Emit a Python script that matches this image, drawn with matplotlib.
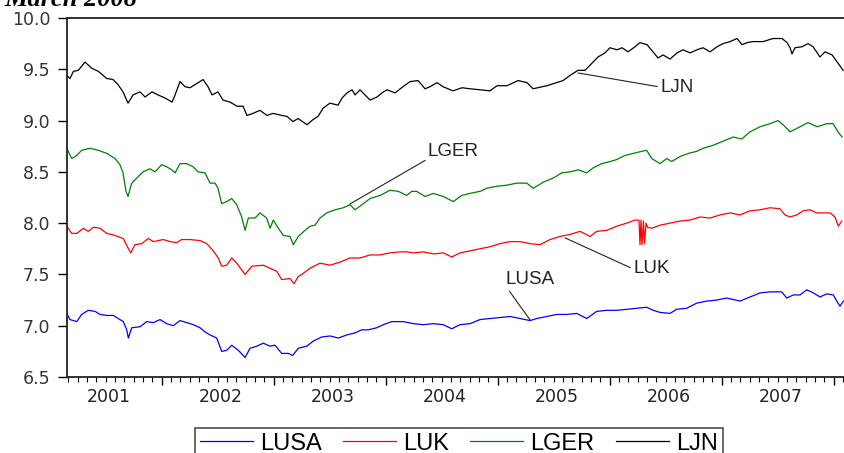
import matplotlib.pyplot as plt
from matplotlib.ticker import MultipleLocator, NullFormatter
from matplotlib.transforms import blended_transform_factory

usa_t = [2001.154, 2001.183, 2001.243, 2001.287, 2001.346, 2001.406, 2001.451, 2001.511, 2001.570, 2001.614,
         2001.659, 2001.689, 2001.704, 2001.734, 2001.808, 2001.868, 2001.927, 2001.987, 2002.046, 2002.105,
         2002.165, 2002.225, 2002.284, 2002.344, 2002.388, 2002.433, 2002.493, 2002.537, 2002.582, 2002.627,
         2002.686, 2002.746, 2002.790, 2002.850, 2002.909, 2002.969, 2003.013, 2003.073, 2003.132, 2003.171,
         2003.221, 2003.296, 2003.355, 2003.430, 2003.504, 2003.579, 2003.654, 2003.728, 2003.787, 2003.846,
         2003.921, 2003.980, 2004.055, 2004.159, 2004.248, 2004.337, 2004.427, 2004.516, 2004.591, 2004.665,
         2004.754, 2004.844, 2004.933, 2005.022, 2005.112, 2005.201, 2005.290, 2005.350, 2005.439, 2005.529,
         2005.618, 2005.707, 2005.796, 2005.886, 2005.975, 2006.064, 2006.154, 2006.243, 2006.332, 2006.391,
         2006.451, 2006.540, 2006.600, 2006.689, 2006.778, 2006.868, 2006.957, 2007.046, 2007.165, 2007.254,
         2007.344, 2007.433, 2007.537, 2007.582, 2007.641, 2007.701, 2007.761, 2007.820, 2007.879, 2007.939,
         2007.998, 2008.029, 2008.058, 2008.087]
usa = [7.12, 7.06, 7.04, 7.11, 7.15, 7.14, 7.11, 7.10, 7.10, 7.07,
       7.04, 6.96, 6.88, 6.98, 6.99, 7.04, 7.03, 7.06, 7.02, 7.00,
       7.05, 7.03, 7.01, 6.98, 6.94, 6.91, 6.88, 6.75, 6.76, 6.81,
       6.76, 6.69, 6.78, 6.80, 6.83, 6.80, 6.81, 6.73, 6.73, 6.71,
       6.78, 6.80, 6.85, 6.89, 6.90, 6.88, 6.91, 6.93, 6.96, 6.96,
       6.98, 7.01, 7.04, 7.04, 7.02, 7.01, 7.02, 7.01, 6.97, 7.01,
       7.02, 7.06, 7.07, 7.08, 7.09, 7.07, 7.05, 7.07, 7.09, 7.11,
       7.11, 7.12, 7.07, 7.14, 7.15, 7.15, 7.16, 7.17, 7.18, 7.15,
       7.13, 7.12, 7.16, 7.17, 7.22, 7.24, 7.25, 7.27, 7.24, 7.28,
       7.32, 7.33, 7.33, 7.27, 7.30, 7.30, 7.35, 7.32, 7.28, 7.31,
       7.30, 7.24, 7.19, 7.24]

uk_t = [2001.154, 2001.198, 2001.243, 2001.302, 2001.346, 2001.391, 2001.451, 2001.511, 2001.585, 2001.659,
        2001.695, 2001.725, 2001.763, 2001.823, 2001.882, 2001.927, 2002.016, 2002.076, 2002.136, 2002.180,
        2002.254, 2002.344, 2002.404, 2002.462, 2002.507, 2002.537, 2002.582, 2002.627, 2002.671, 2002.746,
        2002.805, 2002.909, 2002.969, 2003.029, 2003.073, 2003.147, 2003.183, 2003.221, 2003.252, 2003.326,
        2003.415, 2003.504, 2003.594, 2003.683, 2003.772, 2003.862, 2003.951, 2004.040, 2004.129, 2004.189,
        2004.248, 2004.337, 2004.427, 2004.516, 2004.591, 2004.665, 2004.754, 2004.844, 2004.933, 2005.022,
        2005.112, 2005.201, 2005.290, 2005.379, 2005.469, 2005.558, 2005.647, 2005.737, 2005.826, 2005.886,
        2005.975, 2006.064, 2006.154, 2006.228, 2006.263, 2006.272, 2006.281, 2006.290, 2006.303, 2006.312,
        2006.326, 2006.339, 2006.377, 2006.451, 2006.540, 2006.629, 2006.719, 2006.808, 2006.897, 2006.987,
        2007.076, 2007.165, 2007.254, 2007.344, 2007.433, 2007.522, 2007.567, 2007.612, 2007.671, 2007.730,
        2007.790, 2007.850, 2007.909, 2007.969, 2008.013, 2008.043, 2008.073]
uk = [7.97, 7.90, 7.90, 7.95, 7.92, 7.96, 7.95, 7.90, 7.88, 7.85,
      7.77, 7.71, 7.79, 7.80, 7.85, 7.82, 7.84, 7.82, 7.81, 7.84,
      7.84, 7.83, 7.80, 7.73, 7.66, 7.58, 7.59, 7.66, 7.61, 7.50,
      7.58, 7.59, 7.56, 7.53, 7.45, 7.46, 7.41, 7.48, 7.50, 7.56,
      7.61, 7.59, 7.62, 7.66, 7.66, 7.69, 7.69, 7.71, 7.72, 7.72,
      7.71, 7.72, 7.70, 7.71, 7.67, 7.71, 7.73, 7.75, 7.77, 7.80,
      7.82, 7.82, 7.80, 7.79, 7.84, 7.87, 7.89, 7.92, 7.87, 7.92,
      7.93, 7.97, 8.00, 8.03, 8.03, 7.79, 8.03, 7.79, 8.02, 7.80,
      8.00, 7.96, 7.95, 7.98, 8.00, 8.02, 8.03, 8.06, 8.05, 8.08,
      8.10, 8.08, 8.12, 8.13, 8.15, 8.14, 8.08, 8.06, 8.08, 8.12,
      8.13, 8.10, 8.10, 8.10, 8.06, 7.97, 8.02]

ger_t = [2001.154, 2001.198, 2001.243, 2001.287, 2001.362, 2001.436, 2001.511, 2001.585, 2001.629, 2001.656,
         2001.683, 2001.701, 2001.734, 2001.779, 2001.835, 2001.897, 2001.942, 2002.002, 2002.046, 2002.091,
         2002.121, 2002.165, 2002.225, 2002.281, 2002.326, 2002.388, 2002.433, 2002.478, 2002.504, 2002.537,
         2002.582, 2002.627, 2002.671, 2002.716, 2002.746, 2002.775, 2002.835, 2002.879, 2002.939, 2002.969,
         2002.998, 2003.043, 2003.088, 2003.147, 2003.177, 2003.221, 2003.281, 2003.326, 2003.370, 2003.415,
         2003.475, 2003.549, 2003.623, 2003.683, 2003.728, 2003.802, 2003.862, 2003.951, 2004.040, 2004.114,
         2004.189, 2004.234, 2004.278, 2004.353, 2004.427, 2004.516, 2004.605, 2004.680, 2004.754, 2004.844,
         2004.904, 2004.993, 2005.082, 2005.171, 2005.261, 2005.320, 2005.409, 2005.498, 2005.573, 2005.647,
         2005.721, 2005.796, 2005.855, 2005.930, 2006.004, 2006.064, 2006.138, 2006.212, 2006.287, 2006.332,
         2006.377, 2006.451, 2006.511, 2006.555, 2006.629, 2006.704, 2006.778, 2006.837, 2006.927, 2007.016,
         2007.105, 2007.180, 2007.254, 2007.344, 2007.433, 2007.504, 2007.549, 2007.612, 2007.701, 2007.772,
         2007.853, 2007.942, 2007.996, 2008.040, 2008.076]
ger = [8.73, 8.63, 8.66, 8.71, 8.73, 8.71, 8.68, 8.63, 8.57, 8.49,
       8.31, 8.26, 8.39, 8.44, 8.50, 8.53, 8.50, 8.57, 8.55, 8.52,
       8.49, 8.58, 8.58, 8.55, 8.50, 8.49, 8.39, 8.39, 8.34, 8.19,
       8.21, 8.24, 8.18, 8.06, 7.93, 8.05, 8.05, 8.10, 8.05, 7.95,
       8.03, 7.95, 7.88, 7.87, 7.79, 7.87, 7.93, 7.97, 7.98, 8.05,
       8.10, 8.13, 8.15, 8.18, 8.13, 8.19, 8.24, 8.27, 8.32, 8.31,
       8.27, 8.31, 8.31, 8.26, 8.29, 8.26, 8.21, 8.27, 8.29, 8.31,
       8.34, 8.36, 8.37, 8.39, 8.39, 8.34, 8.40, 8.44, 8.49, 8.50,
       8.52, 8.49, 8.54, 8.58, 8.60, 8.62, 8.66, 8.68, 8.70, 8.71,
       8.63, 8.58, 8.63, 8.60, 8.65, 8.68, 8.70, 8.73, 8.76, 8.80,
       8.84, 8.82, 8.89, 8.94, 8.97, 9.00, 8.96, 8.89, 8.94, 8.98,
       8.94, 8.97, 8.97, 8.89, 8.84]

jn_t = [2001.154, 2001.183, 2001.213, 2001.257, 2001.317, 2001.377, 2001.436, 2001.511, 2001.567, 2001.612,
        2001.656, 2001.701, 2001.746, 2001.808, 2001.853, 2001.915, 2001.969, 2002.031, 2002.094, 2002.121,
        2002.165, 2002.210, 2002.254, 2002.299, 2002.371, 2002.415, 2002.451, 2002.504, 2002.549, 2002.612,
        2002.674, 2002.728, 2002.763, 2002.817, 2002.879, 2002.942, 2002.996, 2003.076, 2003.121, 2003.174,
        2003.219, 2003.299, 2003.353, 2003.397, 2003.442, 2003.504, 2003.576, 2003.612, 2003.656, 2003.701,
        2003.728, 2003.772, 2003.817, 2003.862, 2003.924, 2003.969, 2004.013, 2004.085, 2004.156, 2004.219,
        2004.290, 2004.353, 2004.397, 2004.460, 2004.513, 2004.603, 2004.683, 2004.754, 2004.844, 2004.933,
        2004.996, 2005.085, 2005.183, 2005.263, 2005.317, 2005.442, 2005.585, 2005.647, 2005.719, 2005.781,
        2005.844, 2005.897, 2005.960, 2006.004, 2006.067, 2006.112, 2006.165, 2006.228, 2006.272, 2006.335,
        2006.388, 2006.433, 2006.478, 2006.540, 2006.603, 2006.656, 2006.719, 2006.781, 2006.835, 2006.897,
        2006.960, 2007.013, 2007.076, 2007.138, 2007.183, 2007.228, 2007.281, 2007.371, 2007.460, 2007.540,
        2007.585, 2007.612, 2007.629, 2007.656, 2007.719, 2007.772, 2007.817, 2007.879, 2007.924, 2007.987,
        2008.040, 2008.085]
jn = [9.44, 9.41, 9.48, 9.49, 9.57, 9.51, 9.48, 9.41, 9.40, 9.35,
      9.28, 9.17, 9.25, 9.28, 9.23, 9.28, 9.25, 9.22, 9.18, 9.25,
      9.38, 9.33, 9.32, 9.35, 9.40, 9.33, 9.25, 9.28, 9.20, 9.18,
      9.14, 9.14, 9.05, 9.07, 9.10, 9.05, 9.07, 9.05, 9.04, 8.99,
      9.02, 8.96, 9.01, 9.04, 9.12, 9.17, 9.15, 9.22, 9.27, 9.30,
      9.25, 9.30, 9.25, 9.20, 9.23, 9.27, 9.30, 9.27, 9.33, 9.38,
      9.39, 9.31, 9.33, 9.37, 9.33, 9.29, 9.32, 9.31, 9.30, 9.29,
      9.34, 9.34, 9.39, 9.37, 9.31, 9.34, 9.39, 9.44, 9.49, 9.49,
      9.56, 9.62, 9.66, 9.71, 9.69, 9.71, 9.67, 9.72, 9.76, 9.74,
      9.67, 9.61, 9.64, 9.60, 9.66, 9.69, 9.66, 9.69, 9.71, 9.67,
      9.72, 9.75, 9.77, 9.80, 9.74, 9.76, 9.77, 9.77, 9.80, 9.80,
      9.76, 9.71, 9.65, 9.71, 9.72, 9.75, 9.72, 9.62, 9.67, 9.64,
      9.56, 9.49]

years = [2001, 2002, 2003, 2004, 2005, 2006, 2007]

fig = plt.figure(figsize=(8.44, 4.53), dpi=100)
ax = fig.add_axes([67 / 844, 76 / 453, 783 / 844, 359 / 453])

l1, = ax.plot(usa_t, usa, color='#0000ff', lw=0.9)
l2, = ax.plot(uk_t, uk, color='#ff0000', lw=0.9)
l3, = ax.plot(ger_t, ger, color='#008000', lw=0.9)
l4, = ax.plot(jn_t, jn, color='black', lw=0.9)

ax.set_xlim(2001.156, 2008.147)
ax.set_ylim(6.5, 10.0)
ax.set_yticks([6.5, 7.0, 7.5, 8.0, 8.5, 9.0, 9.5, 10.0])
ax.set_yticklabels(['6.5', '7.0', '7.5', '8.0', '8.5', '9.0', '9.5', '10.0'])
ax.xaxis.set_major_locator(MultipleLocator(1))
ax.xaxis.set_minor_locator(MultipleLocator(1 / 12))
ax.xaxis.set_major_formatter(NullFormatter())
ax.tick_params(axis='y', direction='out', length=6.5, width=1, pad=5.5,
               labelsize=12.5, labelcolor='#333333')
ax.tick_params(axis='x', which='major', direction='out', length=6, width=1)
ax.tick_params(axis='x', which='minor', direction='out', length=3.5, width=0.8)
for s in ax.spines.values():
    s.set_linewidth(1.3)
    s.set_color('#222222')

trans = blended_transform_factory(ax.transData, ax.transAxes)
for y in years:
    ax.text(y + 0.53, -0.056, str(y), transform=trans, ha='center', va='center',
            fontsize=12.5, color='#222222', family=['Liberation Sans Narrow', 'DejaVu Sans'])

lbl = dict(fontsize=13.5, color='#222222', family=['Liberation Sans', 'DejaVu Sans'], va='center', ha='left')
line = dict(arrowstyle='-', color='#222222', lw=0.8, shrinkA=0, shrinkB=0)
ax.annotate('LJN', xy=(2005.719, 9.464), xytext=(2006.451, 9.327),
            arrowprops=dict(line, relpos=(0, 0.5)), **lbl)
ax.annotate('LGER', xy=(2003.683, 8.187), xytext=(2004.379, 8.694),
            arrowprops=dict(line, relpos=(0, 0.1)), **lbl)
ax.annotate('LUK', xy=(2005.603, 7.856), xytext=(2006.21, 7.554),
            arrowprops=dict(line, relpos=(0, 0.5)), **lbl)
ax.annotate('LUSA', xy=(2005.29, 7.057), xytext=(2005.067, 7.446),
            arrowprops=dict(line, relpos=(0.05, 0.0)), **lbl)

leg = fig.legend([l1, l2, l3, l4], ['LUSA', 'LUK', 'LGER', 'LJN'], ncol=4,
                 loc='upper left', bbox_to_anchor=(195 / 844, 1 - 428 / 453), borderaxespad=0,
                 frameon=True, fancybox=False, edgecolor='#222222', handlelength=2.25,
                 columnspacing=0.9, handletextpad=0.3, borderpad=0.2,
                 prop=dict(family=['Liberation Sans', 'DejaVu Sans'], size=17))
leg.get_frame().set_linewidth(1.2)

fig.text(0.005, 1 - 6 / 453, 'March 2008', ha='left', va='baseline', fontsize=19,
         fontweight='bold', style='italic', family=['Liberation Serif', 'DejaVu Serif'])

fig.savefig('out.png', dpi=100)
